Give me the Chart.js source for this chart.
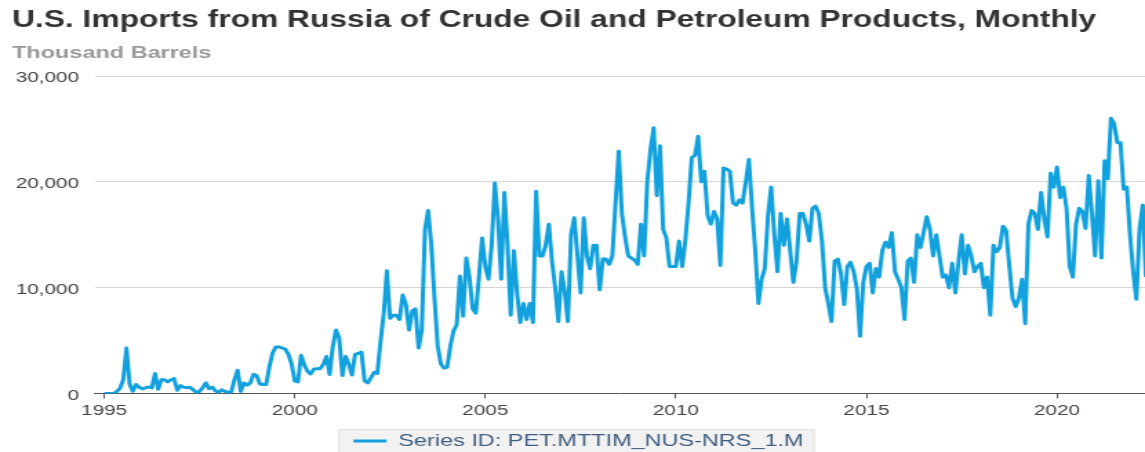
<!DOCTYPE html>
<html>
<head>
<meta charset="utf-8">
<title>U.S. Imports from Russia of Crude Oil and Petroleum Products, Monthly</title>
<script src="https://cdn.jsdelivr.net/npm/chart.js@4/dist/chart.umd.min.js"></script>
<style>
  html, body { margin: 0; padding: 0; background: #fff; overflow: hidden; }
</style>
</head>
<body>
<canvas id="chart" width="830" height="452" style="display:block;width:1145px;height:452px"></canvas>
<script>
'use strict';

// Data (thousand barrels per month, starting January 1995)
const firstYear = 1995;
const seriesName = 'Series ID: PET.MTTIM_NUS-NRS_1.M';
const imports = [
  0, 0, 0, 0, 200, 500, 1300, 4300, 900, 200, 850, 600,                       // 1995
  450, 530, 620, 530, 1900, 400, 1300, 1300, 1100, 1300, 1400, 300,           // 1996
  750, 600, 550, 600, 350, 100, 200, 550, 1000, 450, 600, 250,                // 1997
  100, 350, 200, 100, 150, 1300, 2200, 200, 1000, 800, 1000, 1800,            // 1998
  1700, 900, 850, 850, 2500, 3800, 4400, 4400, 4300, 4200, 3700, 2800,        // 1999
  1200, 1100, 3600, 2700, 2100, 1850, 2300, 2350, 2350, 2750, 3500, 1800,     // 2000
  4500, 6000, 5200, 1700, 3500, 2800, 1750, 3700, 3800, 3900, 1200, 1000,     // 2001
  1500, 2000, 1900, 4900, 7500, 11600, 7100, 7400, 7400, 7000, 9300, 8400,    // 2002
  6000, 7800, 8000, 4300, 6000, 15500, 17300, 14000, 9000, 4500, 2800, 2400,  // 2003
  2500, 4500, 5900, 6500, 11100, 7300, 12800, 11000, 8000, 7600, 11000, 14700, // 2004
  12000, 10800, 14000, 19900, 16500, 10800, 19000, 14000, 7400, 13500, 9500, 6700, // 2005
  8500, 7000, 8500, 6700, 19100, 13000, 13000, 14000, 16000, 12500, 10000, 6800,   // 2006
  11500, 9600, 6800, 15000, 16600, 13000, 9500, 16600, 13000, 11800, 14000, 14000, // 2007
  9800, 12700, 12700, 12200, 13000, 18000, 22900, 17000, 14800, 13000, 12800, 12600, // 2008
  12200, 16000, 13000, 20000, 23000, 25100, 18700, 23400, 15500, 14700, 12000, 12000, // 2009
  12000, 14400, 12000, 14500, 18000, 22300, 22500, 24300, 20000, 21000, 16800, 16000, // 2010
  17200, 16500, 12100, 21300, 21200, 21000, 18000, 17800, 18300, 18000, 20000, 22100, // 2011
  17500, 13500, 8500, 10800, 11800, 16800, 19500, 15000, 11500, 17000, 14000, 16500,  // 2012
  13500, 10500, 12500, 17000, 17000, 16000, 14400, 17500, 17700, 17000, 14400, 10000, // 2013
  8500, 6800, 12500, 12700, 11300, 8400, 12000, 12400, 11500, 9900, 5400, 10500,      // 2014
  12000, 12300, 9500, 11800, 11000, 13500, 14300, 13800, 15200, 11500, 10800, 10000,  // 2015
  7000, 12500, 12800, 10500, 15000, 13800, 15200, 16700, 15500, 13000, 15000, 13000,  // 2016
  11000, 11200, 10000, 12300, 9500, 12500, 15000, 11300, 14000, 13000, 11500, 12000,  // 2017
  12300, 10000, 11000, 7400, 14000, 13400, 13800, 15800, 15400, 12000, 9000, 8200,    // 2018
  9000, 10800, 6600, 16000, 17300, 17000, 15500, 19000, 16500, 14800, 20800, 19500,   // 2019
  21400, 18500, 19500, 17500, 12000, 11000, 16000, 17500, 17200, 15600, 20600, 17000, // 2020
  13000, 20100, 12800, 22000, 20300, 26000, 25500, 23700, 23700, 19300, 19500, 15000, // 2021
  11500, 8900, 15500, 17800, 11000                                                      // 2022
];
const tickYears = [1995, 2000, 2005, 2010, 2015, 2020];
const yTicks = [0, 10000, 20000, 30000];

let points = [];
for (let i = 0; i < imports.length; i++) {
  points.push({ x: firstYear + i / 12, y: imports[i] });
}

const fontFamily = '"Liberation Sans", Arial, Helvetica, sans-serif';

// grey box behind the legend
const legendBox = {
  id: 'legendBox',
  beforeDraw(chart) {
    let legend = chart.legend;
    if (!legend || !legend.legendHitBoxes || !legend.legendHitBoxes.length) {
      return;
    }
    let hb = legend.legendHitBoxes[0];
    let c = chart.ctx;
    c.save();
    c.fillStyle = '#f2f2f2';
    c.strokeStyle = '#e1e1e1';
    c.lineWidth = 1;
    c.fillRect(hb.left - 11, hb.top - 3.5, hb.width + 19, 40);
    c.strokeRect(hb.left - 11 + 0.5, hb.top - 3.5 + 0.5, hb.width + 18, 40);
    c.restore();
  }
};

const ctx = document.getElementById('chart').getContext('2d');

// eslint-disable-next-line no-unused-vars
const myChart = new Chart(ctx, {
  type: 'line',
  data: {
    datasets: [{
      label: seriesName,
      data: points,
      borderColor: '#12a1dc',
      backgroundColor: '#12a1dc',
      borderWidth: 3,
      pointRadius: 0,
      tension: 0,
      borderJoinStyle: 'round',
      fill: false
    }]
  },
  options: {
    responsive: false,
    animation: false,
    layout: {
      padding: { left: 8.7, right: 0, top: 0, bottom: -7.5 }
    },
    plugins: {
      title: {
        display: true,
        text: 'U.S. Imports from Russia of Crude Oil and Petroleum Products, Monthly',
        align: 'start',
        color: '#333',
        font: { family: fontFamily, size: 23, weight: 'bold', lineHeight: 1.2 },
        padding: { top: 7, bottom: 9 }
      },
      subtitle: {
        display: true,
        text: 'Thousand Barrels',
        align: 'start',
        color: '#999',
        font: { family: fontFamily, size: 17, weight: 'bold', lineHeight: 1.2 },
        padding: { top: 0, bottom: 12 }
      },
      legend: {
        display: true,
        position: 'bottom',
        labels: {
          color: '#3f5e80',
          font: { family: fontFamily, size: 17 },
          usePointStyle: true,
          pointStyle: 'line',
          pointStyleWidth: 24,
          padding: 10
        }
      },
      tooltip: { enabled: false }
    },
    scales: {
      x: {
        type: 'linear',
        min: 1994.76,
        max: 2022.31,
        afterBuildTicks: (scale) => {
          scale.ticks = tickYears.map(v => ({ value: v }));
        },
        ticks: {
          color: '#444',
          font: { family: fontFamily, size: 15 },
          padding: 3,
          maxRotation: 0,
          autoSkip: false,
          callback: (v) => String(v)
        },
        grid: {
          drawOnChartArea: false,
          drawTicks: true,
          tickLength: 5,
          tickColor: '#555'
        },
        border: { display: true, color: '#555', width: 1 }
      },
      y: {
        min: 0,
        max: 30000,
        afterBuildTicks: (scale) => {
          scale.ticks = yTicks.map(v => ({ value: v }));
        },
        afterFit: (scale) => {
          scale.width = 60.2;
        },
        ticks: {
          color: '#444',
          font: { family: fontFamily, size: 15 },
          padding: 11.6,
          labelOffset: 2,
          callback: (v) => v.toLocaleString('en-US')
        },
        grid: {
          color: '#d4d4d4',
          drawTicks: false
        },
        border: { display: false }
      }
    }
  },
  plugins: [legendBox]
});
</script>
</body>
</html>
